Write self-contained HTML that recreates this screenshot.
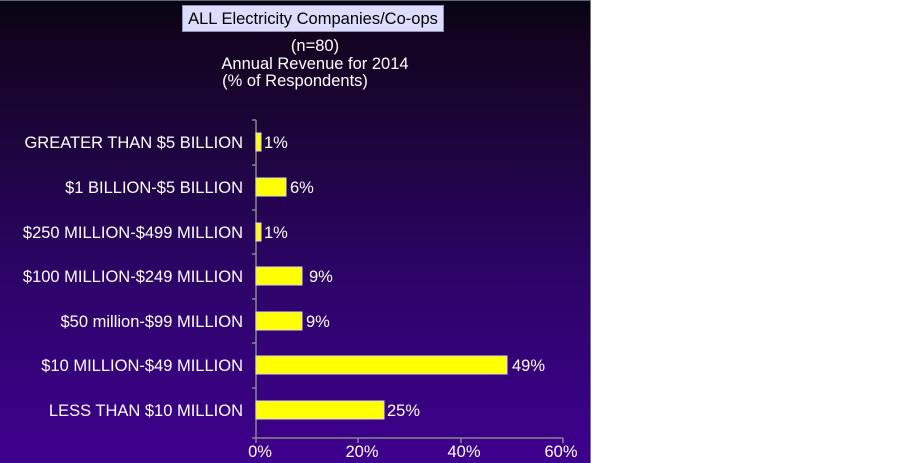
<!DOCTYPE html>
<html><head><style>
body{margin:0;width:903px;height:463px;background:#fff;font-family:"Liberation Sans",sans-serif;overflow:hidden}
#p{position:absolute;left:0;top:0;width:590px;height:462px;border-right:1px solid #777;border-top:1px solid #666;box-sizing:content-box;background:linear-gradient(#050518 0%,#0a0515 3%,#140320 8%,#1a0535 25%,#2c0468 60%,#3e008e 100%);}
.t{position:absolute;color:#fff;font-size:16.5px;text-align:center}
</style></head><body>
<div id="p"></div>
<div style="position:absolute;left:182px;top:5px;width:262px;height:27px;background:#dcdcfc;border:1px solid #9090c0;box-sizing:border-box;font-size:16.5px;color:#000;text-align:center;line-height:26px;white-space:nowrap">ALL Electricity Companies/Co-ops</div>
<div class="t" style="left:200px;width:230px;top:37px">(n=80)</div>
<div class="t" style="left:180px;width:270px;top:55px">Annual Revenue for 2014</div>
<div class="t" style="left:160px;width:270px;top:72px">(% of Respondents)</div>
<svg style="position:absolute;left:0;top:0" width="903" height="463">
<g font-family="Liberation Sans" font-size="16.5" fill="#fff">
<line x1="256" y1="120" x2="256" y2="438" stroke="#888" stroke-width="1.5"/>
<line x1="256" y1="438" x2="563" y2="438" stroke="#888" stroke-width="1.5"/>
<g stroke="#888" stroke-width="1.5">
<line x1="252" y1="120" x2="256" y2="120"/><line x1="252" y1="165" x2="256" y2="165"/><line x1="252" y1="210" x2="256" y2="210"/><line x1="252" y1="254" x2="256" y2="254"/><line x1="252" y1="299" x2="256" y2="299"/><line x1="252" y1="343" x2="256" y2="343"/><line x1="252" y1="388" x2="256" y2="388"/><line x1="252" y1="438" x2="256" y2="438"/>
<line x1="256" y1="438" x2="256" y2="443"/><line x1="358" y1="438" x2="358" y2="443"/><line x1="461" y1="438" x2="461" y2="443"/><line x1="563" y1="438" x2="563" y2="443"/>
</g>
<g fill="#ffff00" stroke="#ddd" stroke-width="1">
<rect x="256" y="133" width="5" height="18"/>
<rect x="256" y="178" width="30" height="18"/>
<rect x="256" y="223" width="5" height="18"/>
<rect x="256" y="267" width="46" height="18"/>
<rect x="256" y="312" width="46" height="18"/>
<rect x="256" y="356" width="251" height="18"/>
<rect x="256" y="401" width="128" height="18"/>
</g>
<g text-anchor="end">
<text x="243" y="148">GREATER THAN $5 BILLION</text>
<text x="243" y="193">$1 BILLION-$5 BILLION</text>
<text x="243" y="238">$250 MILLION-$499 MILLION</text>
<text x="243" y="282">$100 MILLION-$249 MILLION</text>
<text x="243" y="327">$50 million-$99 MILLION</text>
<text x="243" y="371">$10 MILLION-$49 MILLION</text>
<text x="243" y="416">LESS THAN $10 MILLION</text>
</g>
<text x="264" y="148">1%</text>
<text x="290" y="193">6%</text>
<text x="264" y="238">1%</text>
<text x="309" y="282">9%</text>
<text x="306" y="327">9%</text>
<text x="512" y="371">49%</text>
<text x="387" y="416">25%</text>
<g text-anchor="middle">
<text x="260" y="457">0%</text><text x="362" y="457">20%</text><text x="464" y="457">40%</text><text x="561" y="457">60%</text>
</g>
</g></svg>
</body></html>
